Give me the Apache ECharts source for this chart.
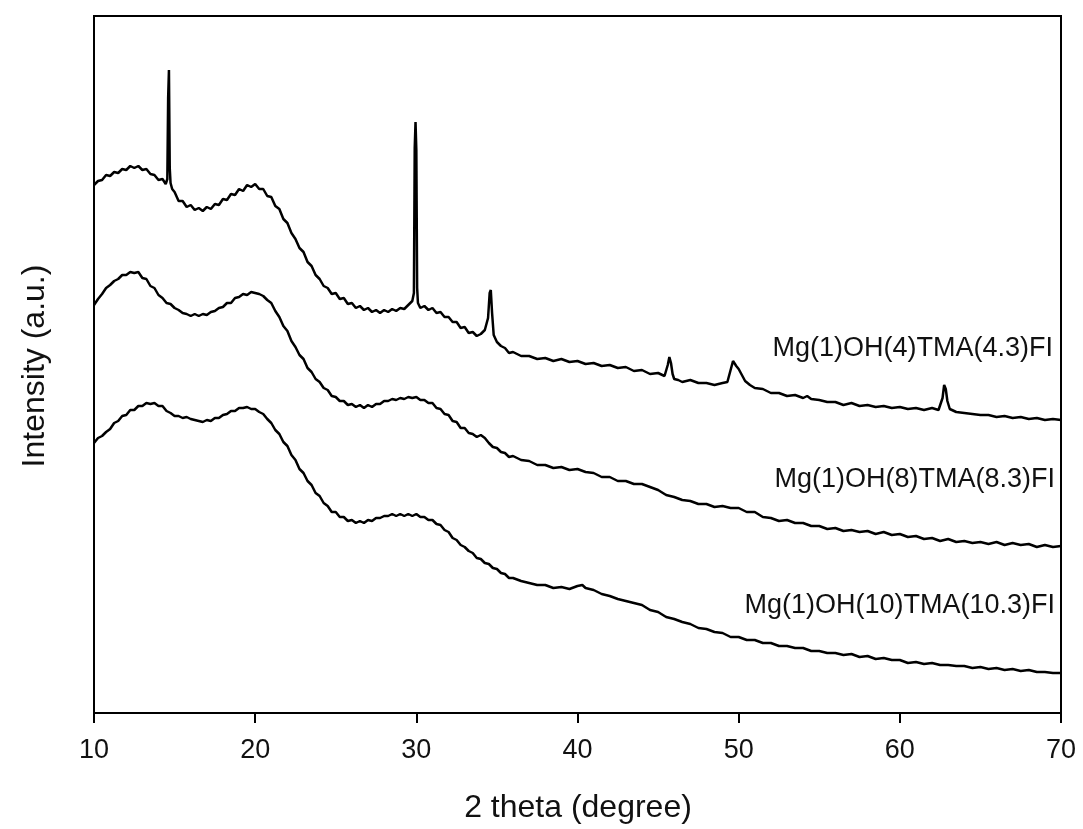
<!DOCTYPE html>
<html>
<head>
<meta charset="utf-8">
<script src="https://cdn.jsdelivr.net/npm/echarts@6/dist/echarts.min.js"></script>
<style>
html,body{margin:0;padding:0;background:#fff;}
#chart{width:1083px;height:829px;}
</style>
</head>
<body>
<div id="chart"></div>
<script>
// 2 theta (degree) vs intensity (a.u.)
const xTicks = [10, 20, 30, 40, 50, 60, 70];
const seriesNames = ['Mg(1)OH(4)TMA(4.3)FI', 'Mg(1)OH(8)TMA(8.3)FI', 'Mg(1)OH(10)TMA(10.3)FI'];

const xrdTMA4 = [
[10.00,528],[10.25,532],[10.50,533],[10.75,538],[11.00,537],[11.25,541],[11.50,540],[11.75,544],[12.00,543],[12.25,547],
[12.50,545],[12.75,547],[13.00,543],[13.25,544],[13.50,539],[13.75,538],[14.00,533],[14.25,534],[14.45,529],[14.55,534],
[14.60,615],[14.65,643],[14.70,545],[14.75,530],[14.85,524],[15.00,521],[15.25,512],[15.50,512],[15.75,506],[16.00,508],
[16.25,503],[16.50,505],[16.75,502],[17.00,506],[17.25,504],[17.50,509],[17.75,508],[18.00,514],[18.25,513],[18.50,519],
[18.75,518],[19.00,524],[19.25,522],[19.50,528],[19.75,526],[20.00,529],[20.25,524],[20.50,524],[20.75,517],[21.00,516],
[21.25,507],[21.50,504],[21.75,494],[22.00,490],[22.25,480],[22.50,474],[22.75,465],[23.00,461],[23.25,451],[23.50,447],
[23.75,438],[24.00,434],[24.25,427],[24.50,425],[24.75,419],[25.00,420],[25.25,414],[25.50,415],[25.75,409],[26.00,410],
[26.25,405],[26.50,407],[26.75,403],[27.00,405],[27.25,401],[27.50,403],[27.75,400],[28.00,403],[28.25,401],[28.50,404],
[28.75,402],[29.00,405],[29.25,404],[29.50,408],[29.75,412],[29.85,420],[29.90,565],[29.95,591],[30.00,563],[30.05,425],
[30.10,410],[30.25,405],[30.50,407],[30.75,403],[31.00,405],[31.25,400],[31.50,401],[31.75,396],[32.00,396],[32.25,391],
[32.50,391],[32.75,385],[33.00,386],[33.25,380],[33.50,381],[33.75,377],[34.00,379],[34.25,383],[34.45,395],[34.55,420],
[34.62,423],[34.70,400],[34.80,378],[35.00,371],[35.25,367],[35.50,365],[35.75,360],[36.00,361],[36.50,357],[37.00,357],
[37.50,354],[38.00,355],[38.50,352],[39.00,354],[39.50,351],[40.00,352],[40.50,349],[41.00,350],[41.50,347],[42.00,348],
[42.50,345],[43.00,346],[43.50,342],[44.00,343],[44.50,339],[45.00,340],[45.40,337],[45.60,348],[45.70,356],[45.80,350],
[45.90,339],[46.00,334],[46.25,333],[46.50,331],[47.00,333],[47.50,330],[48.00,330],[48.50,328],[49.00,330],[49.30,331],
[49.50,343],[49.65,352],[49.75,350],[49.85,347],[50.00,344],[50.20,338],[50.40,332],[50.70,328],[51.00,325],[51.50,324],
[52.00,320],[52.50,320],[53.00,317],[53.50,318],[54.00,315],[54.25,317],[54.50,314],[55.00,313],[55.50,311],[56.00,311],
[56.50,308],[57.00,310],[57.50,307],[58.00,308],[58.50,306],[59.00,307],[59.50,305],[60.00,306],[60.50,304],[61.00,305],
[61.50,303],[62.00,305],[62.40,303],[62.65,315],[62.75,328],[62.85,324],[62.95,312],[63.10,304],[63.50,301],[64.00,300],
[64.50,299],[65.00,298],[65.50,298],[66.00,296],[66.50,297],[67.00,295],[67.50,296],[68.00,294],[68.50,295],[69.00,293],
[69.50,294],[70.00,293]
];

const xrdTMA8 = [
[10.00,408],[10.25,414],[10.50,419],[10.75,425],[11.00,428],[11.25,432],[11.50,434],[11.75,438],[12.00,438],[12.25,441],
[12.50,440],[12.75,441],[13.00,435],[13.25,434],[13.50,427],[13.75,425],[14.00,418],[14.25,415],[14.50,410],[14.75,409],
[15.00,405],[15.25,403],[15.50,400],[15.75,399],[16.00,397],[16.25,399],[16.50,397],[16.75,399],[17.00,398],[17.25,401],
[17.50,402],[17.75,405],[18.00,406],[18.25,410],[18.50,410],[18.75,415],[19.00,416],[19.25,419],[19.50,418],[19.75,421],
[20.00,420],[20.25,419],[20.50,417],[20.75,413],[21.00,410],[21.25,402],[21.50,396],[21.75,387],[22.00,382],[22.25,372],
[22.50,366],[22.75,358],[23.00,354],[23.25,345],[23.50,341],[23.75,334],[24.00,331],[24.25,325],[24.50,323],[24.75,317],
[25.00,316],[25.25,312],[25.50,312],[25.75,308],[26.00,309],[26.25,306],[26.50,308],[26.75,305],[27.00,308],[27.25,306],
[27.50,309],[27.75,309],[28.00,312],[28.25,312],[28.50,314],[28.75,313],[29.00,315],[29.25,314],[29.50,316],[29.75,315],
[30.00,316],[30.25,313],[30.50,313],[30.75,310],[31.00,310],[31.25,305],[31.50,304],[31.75,299],[32.00,298],[32.25,292],
[32.50,291],[32.75,285],[33.00,285],[33.25,280],[33.50,279],[33.75,276],[34.00,278],[34.25,275],[34.50,270],[34.75,266],
[35.00,265],[35.25,261],[35.50,260],[35.75,256],[36.00,257],[36.50,253],[37.00,252],[37.50,248],[38.00,248],[38.50,245],
[39.00,246],[39.50,243],[40.00,244],[40.50,241],[41.00,240],[41.50,236],[42.00,236],[42.50,232],[43.00,232],[43.50,229],
[44.00,229],[44.50,226],[45.00,223],[45.50,218],[46.00,216],[46.50,213],[47.00,212],[47.50,209],[48.00,209],[48.50,206],
[49.00,207],[49.50,205],[50.00,205],[50.50,201],[51.00,201],[51.50,196],[52.00,195],[52.50,192],[53.00,193],[53.50,190],
[54.00,190],[54.50,187],[55.00,187],[55.50,184],[56.00,185],[56.50,182],[57.00,183],[57.50,181],[58.00,182],[58.50,179],
[59.00,181],[59.50,178],[60.00,179],[60.50,176],[61.00,177],[61.50,174],[62.00,175],[62.50,172],[63.00,174],[63.50,171],
[64.00,172],[64.50,170],[65.00,171],[65.50,169],[66.00,171],[66.50,168],[67.00,170],[67.50,168],[68.00,169],[68.50,166],
[69.00,168],[69.50,166],[70.00,167]
];

const xrdTMA10 = [
[10.00,270],[10.25,275],[10.50,277],[10.75,281],[11.00,284],[11.25,290],[11.50,292],[11.75,297],[12.00,298],[12.25,303],
[12.50,303],[12.75,307],[13.00,307],[13.25,310],[13.50,309],[13.75,310],[14.00,307],[14.25,307],[14.50,302],[14.75,300],
[15.00,297],[15.25,297],[15.50,295],[15.75,296],[16.00,294],[16.25,293],[16.50,292],[16.75,291],[17.00,293],[17.25,292],
[17.50,295],[17.75,295],[18.00,298],[18.25,299],[18.50,302],[18.75,302],[19.00,305],[19.25,305],[19.50,306],[19.75,304],
[20.00,304],[20.25,301],[20.50,299],[20.75,294],[21.00,290],[21.25,283],[21.50,279],[21.75,271],[22.00,267],[22.25,258],
[22.50,253],[22.75,244],[23.00,240],[23.25,232],[23.50,228],[23.75,220],[24.00,217],[24.25,210],[24.50,207],[24.75,201],
[25.00,201],[25.25,196],[25.50,196],[25.75,192],[26.00,193],[26.25,190],[26.50,192],[26.75,190],[27.00,193],[27.25,192],
[27.50,195],[27.75,195],[28.00,197],[28.25,197],[28.50,199],[28.75,197],[29.00,199],[29.25,197],[29.50,199],[29.75,197],
[30.00,199],[30.25,196],[30.50,196],[30.75,193],[31.00,193],[31.25,189],[31.50,188],[31.75,183],[32.00,181],[32.25,175],
[32.50,173],[32.75,168],[33.00,166],[33.25,162],[33.50,160],[33.75,155],[34.00,154],[34.25,150],[34.50,149],[34.75,145],
[35.00,144],[35.25,140],[35.50,139],[35.75,135],[36.00,135],[36.50,132],[37.00,130],[37.50,128],[38.00,128],[38.50,125],
[39.00,126],[39.50,124],[40.00,127],[40.30,128],[40.50,125],[41.00,123],[41.50,119],[42.00,117],[42.50,114],[43.00,112],
[43.50,110],[44.00,108],[44.50,103],[45.00,101],[45.50,96],[46.00,94],[46.50,91],[47.00,89],[47.50,85],[48.00,84],
[48.50,81],[49.00,80],[49.50,76],[50.00,76],[50.50,73],[51.00,73],[51.50,70],[52.00,70],[52.50,67],[53.00,67],
[53.50,65],[54.00,65],[54.50,62],[55.00,62],[55.50,60],[56.00,60],[56.50,58],[57.00,59],[57.50,56],[58.00,57],
[58.50,54],[59.00,55],[59.50,53],[60.00,53],[60.50,50],[61.00,51],[61.50,49],[62.00,50],[62.50,48],[63.00,48],
[63.50,47],[64.00,47],[64.50,45],[65.00,46],[65.50,44],[66.00,45],[66.50,43],[67.00,44],[67.50,42],[68.00,43],
[68.50,41],[69.00,41],[69.50,40],[70.00,40]
];

const FONT = '"Liberation Sans", Arial, Helvetica, sans-serif';
const chart = echarts.init(document.getElementById('chart'), null, {renderer: 'canvas'});

function lineSeries(name, data) {
  return {
    name: name, type: 'line', data: data, symbol: 'none', smooth: false,
    lineStyle: {color: '#000', width: 2.5}, animation: false, z: 3
  };
}

chart.setOption({
  backgroundColor: '#fff',
  animation: false,
  grid: {left: 94, right: 22, top: 16, bottom: 116, show: true, borderColor: '#000', borderWidth: 2, backgroundColor: 'transparent'},
  xAxis: {
    type: 'value', min: 10, max: 70, interval: 10,
    axisLine: {show: true, lineStyle: {color: '#000', width: 2}},
    axisTick: {show: true, inside: false, length: 10, lineStyle: {color: '#000', width: 2}},
    axisLabel: {show: true, margin: 24, color: '#111', fontSize: 27, fontFamily: FONT,
      formatter: function (v) { return xTicks.indexOf(v) >= 0 ? String(v) : ''; }},
    splitLine: {show: false}
  },
  yAxis: {
    type: 'value', min: 0, max: 697,
    axisLine: {show: true, lineStyle: {color: '#000', width: 2}},
    axisTick: {show: false}, axisLabel: {show: false}, splitLine: {show: false}
  },
  series: [
    lineSeries(seriesNames[0], xrdTMA4),
    lineSeries(seriesNames[1], xrdTMA8),
    lineSeries(seriesNames[2], xrdTMA10)
  ],
  graphic: [
    {type: 'text', x: 578, y: 808, style: {text: '2 theta (degree)', font: '32px ' + FONT, fill: '#111', align: 'center', verticalAlign: 'middle'}},
    {type: 'text', x: 35, y: 366, rotation: Math.PI / 2, style: {text: 'Intensity (a.u.)', font: '32px ' + FONT, fill: '#111', align: 'center', verticalAlign: 'middle'}},
    {type: 'text', x: 1053, y: 349, style: {text: seriesNames[0], font: '27px ' + FONT, fill: '#111', align: 'right', verticalAlign: 'middle'}},
    {type: 'text', x: 1055, y: 480, style: {text: seriesNames[1], font: '27px ' + FONT, fill: '#111', align: 'right', verticalAlign: 'middle'}},
    {type: 'text', x: 1055, y: 606, style: {text: seriesNames[2], font: '27px ' + FONT, fill: '#111', align: 'right', verticalAlign: 'middle'}}
  ]
});
</script>
</body>
</html>
